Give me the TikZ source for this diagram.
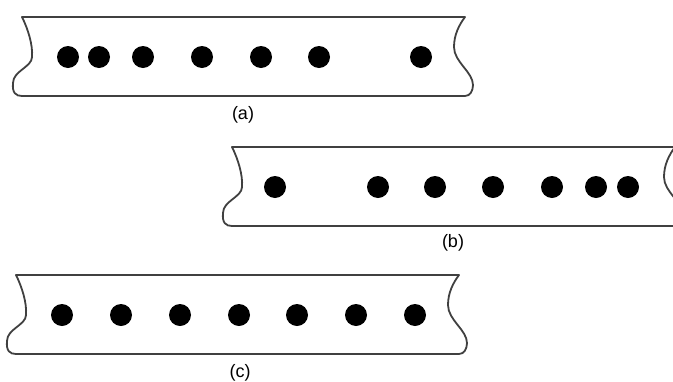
\documentclass[tikz,border=0pt]{standalone}
\usepackage{fontspec}
\setmainfont{Liberation Sans}
\begin{document}
\begin{tikzpicture}[x=1pt,y=-1pt,
  edge/.style={draw=black!75, line width=1.8pt, line join=round},
  dot/.style={circle, fill=black, inner sep=0pt, minimum size=22pt},
  lab/.style={font=\fontsize{18}{20}\selectfont, inner sep=0pt},
  pics/strip/.style={code={
    \draw[edge] (0,0) -- (443,0)
      .. controls (437,8) and (432,18) .. (432,30)
      .. controls (432,45) and (451,55) .. (451,68)
      .. controls (451,74) and (448,79) .. (443,79)
      -- (0,79)
      .. controls (-6,79) and (-10,76) .. (-9,66)
      .. controls (-9,54) and (10,50) .. (10,40)
      .. controls (11,28) and (6,12) .. (0,0) -- cycle;
  }}]
\useasboundingbox (0,0) rectangle (673,381);
\clip (0,0) rectangle (673,381);
% strip (a)
\pic at (22,17) {strip};
\foreach \x [count=\i] in {68,99,143,202,261,319,421}
  \node[dot] (a\i) at (\x,57) {};
\node[lab] (la) at (243,115) {(a)};
% strip (b)
\pic at (232,147) {strip};
\foreach \x [count=\i] in {275,378,435,493,552,596,628}
  \node[dot] (b\i) at (\x,187) {};
\node[lab] (lb) at (453,243) {(b)};
% strip (c)
\pic at (16,275) {strip};
\foreach \x [count=\i] in {62,121,180,239,297,356,415}
  \node[dot] (c\i) at (\x,315) {};
\node[lab] (lc) at (240,373) {(c)};
\end{tikzpicture}
\end{document}
